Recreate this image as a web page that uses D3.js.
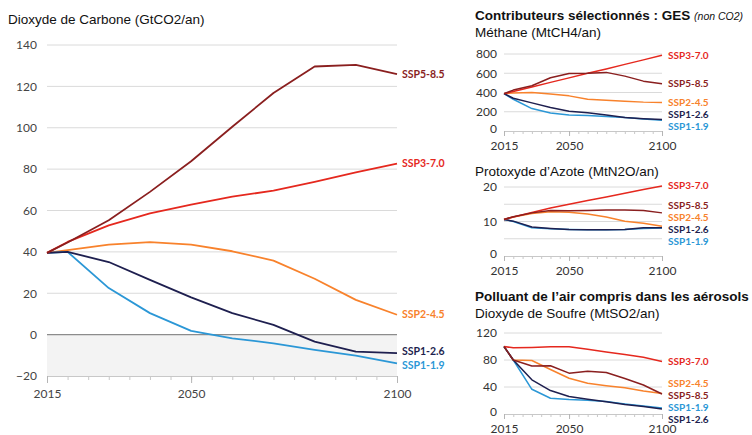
<!DOCTYPE html>
<html>
<head>
<meta charset="utf-8">
<script src="https://cdn.jsdelivr.net/npm/d3@7"></script>
<style>
  body { margin: 0; background: #fff; }
  svg { display: block; }
  .title { font-family: "Liberation Sans", Arial, sans-serif; font-size: 13.5px; fill: #111; }
  .tick text { font-family: Lato, sans-serif; fill: #444; }
  .lbl { font-family: Lato, sans-serif; font-weight: bold; }
</style>
</head>
<body>
<script>
// years of the projections
var years = [2015, 2020, 2030, 2040, 2050, 2060, 2070, 2080, 2090, 2100];
var scenarios = ["SSP1-1.9", "SSP1-2.6", "SSP2-4.5", "SSP3-7.0", "SSP5-8.5"];
var colors = ["#2b97d6", "#1e1f4f", "#f8822c", "#e5281e", "#8a1f1f"];

// one row per scenario, same order as above
var co2 = [
  [39.5, 40, 22.5, 10.4, 1.8, -1.8, -4.2, -7.4, -10.2, -13.9],
  [39.5, 40, 35.1, 26.5, 18, 10.4, 4.7, -3.4, -8.2, -8.9],
  [39.5, 40.8, 43.5, 44.7, 43.5, 40.3, 35.8, 27, 16.8, 9.6],
  [39.5, 44.8, 52.8, 58.6, 62.8, 66.7, 69.6, 73.8, 78.4, 82.7],
  [39.5, 44.5, 55.3, 69, 83.8, 100.5, 116.8, 129.6, 130.4, 125.9]
];
var ch4 = [
  [388, 330, 233, 188, 167, 160, 150, 140, 125, 112],
  [388, 340, 292, 244, 205, 190, 167, 140, 128, 119],
  [388, 395, 400, 385, 365, 330, 320, 310, 300, 296],
  [388, 411, 458, 505, 552, 599, 645, 692, 739, 786],
  [388, 425, 470, 553, 598, 600, 609, 570, 518, 490]
];
var n2o = [
  [10.6, 10.0, 8.2, 7.9, 7.7, 7.6, 7.6, 7.7, 8.0, 8.1],
  [10.6, 10.1, 8.4, 8.0, 7.7, 7.6, 7.6, 7.7, 8.2, 8.2],
  [10.6, 11.3, 12.3, 12.8, 12.7, 12.2, 11.3, 10.1, 9.5, 8.6],
  [10.6, 11.3, 12.6, 13.9, 15.0, 16.1, 17.1, 18.2, 19.3, 20.3],
  [10.6, 11.4, 12.5, 13.2, 13.1, 13.2, 13.3, 13.3, 13.2, 12.5]
];
var so2 = [
  [100, 80, 36.6, 23.3, 21.3, 20.5, 18.5, 15, 12, 8.9],
  [100, 80, 50.6, 34.7, 25.8, 22, 18, 14, 11, 7.4],
  [100, 80, 79.3, 66, 53, 45.6, 42, 39, 34, 30.2],
  [100, 98, 98.5, 99.5, 99.5, 96, 92, 88, 84, 77.8],
  [100, 80, 71, 71.5, 60.5, 63.4, 61.5, 52.5, 43, 29.7]
];

var co2Ticks = [-20, 0, 20, 40, 60, 80, 100, 120, 140];
var ch4Ticks = [0, 200, 400, 600, 800];
var n2oTicks = [0, 10, 20];
var n2oGrid = [5, 10, 15, 20];
var so2Ticks = [0, 40, 80, 120];
var yearTicks = [2015, 2050, 2100];

var svg = d3.select("body").append("svg")
  .attr("width", 752).attr("height", 435);

// spread end labels so they don't overlap
function spread(lbls, gap) {
  lbls.sort(function(a, b){ return a.y0 - b.y0; });
  var groups = lbls.map(function(l){ return [l]; });
  var top = function(g){ return d3.mean(g, function(l, i){ return l.y0 - i * gap; }); };
  var merged = true;
  while (merged) {
    merged = false;
    for (var i = 0; i < groups.length - 1; i++) {
      if (top(groups[i]) + groups[i].length * gap > top(groups[i + 1])) {
        groups[i] = groups[i].concat(groups[i + 1]);
        groups.splice(i + 1, 1);
        merged = true;
        break;
      }
    }
  }
  groups.forEach(function(g){
    var t = top(g);
    g.forEach(function(l, i){ l.y = t + i * gap; });
  });
  return lbls;
}

function panel(o) {
  var g = svg.append("g");
  var x = d3.scaleLinear().domain([2015, 2100]).range([o.x0, o.x1]);
  var y = d3.scaleLinear().domain(o.domain).range([o.y0, o.y1]);

  if (o.shade) {
    g.append("rect")
      .attr("x", x(2015)).attr("width", x(2100) - x(2015))
      .attr("y", y(0)).attr("height", y(o.domain[0]) - y(0))
      .attr("fill", "#f3f3f3");
  }

  // gridlines
  g.selectAll(".grid").data(o.grid.filter(function(v){ return v !== o.domain[0]; }))
    .enter().append("line")
    .attr("x1", x(2015)).attr("x2", x(2100))
    .attr("y1", function(d){ return y(d); }).attr("y2", function(d){ return y(d); })
    .attr("stroke", function(d){ return d === 0 && o.shade ? "#8c8c8c" : "#dadada"; })
    .attr("stroke-width", function(d){ return d === 0 && o.shade ? 1.2 : 1; });

  // y labels
  var ya = g.append("g").attr("transform", "translate(" + o.x0 + ",0)")
    .call(d3.axisLeft(y).tickValues(o.ticks).tickSize(0).tickPadding(o.ypad));
  ya.select(".domain").remove();
  ya.selectAll("text").style("font-size", o.fs + "px").style("fill", o.tc);
  // lowest label sits a bit higher so it clears the year labels
  ya.selectAll(".tick text").filter(function(d){ return d === o.domain[0]; })
    .attr("dy", o.lowDy);

  // x axis: minor then major ticks
  var minor = g.append("g").attr("transform", "translate(0," + y(o.domain[0]) + ")")
    .call(d3.axisBottom(x).tickValues(d3.range(2015, 2101, 5)).tickSize(o.minor).tickFormat(""));
  minor.select(".domain").attr("stroke", "#c8c8c8");
  minor.selectAll(".tick line").attr("stroke", "#c8c8c8");
  var xa = g.append("g").attr("transform", "translate(0," + y(o.domain[0]) + ")")
    .call(d3.axisBottom(x).tickValues(yearTicks).tickFormat(d3.format("d")).tickSize(o.major).tickPadding(o.xpad));
  xa.select(".domain").remove();
  xa.selectAll(".tick line").attr("stroke", "#b5b5b5");
  xa.selectAll("text").style("font-size", o.fs + "px").style("fill", o.tc);

  var line = d3.line().x(function(d, i){ return x(years[i]); }).y(function(d){ return y(d); });

  // draw order: background series first
  var order = [2, 0, 1, 3, 4];
  g.selectAll(".series").data(order).enter().append("path")
    .attr("d", function(k){ return line(o.data[k]); })
    .attr("fill", "none")
    .attr("stroke", function(k){ return colors[k]; })
    .attr("stroke-width", o.lw)
    .attr("stroke-linejoin", "round");

  var lbls = spread(scenarios.map(function(s, k){
    return { name: s, k: k, y0: y(o.data[k][years.length - 1]) };
  }), o.gap);
  g.selectAll(".lbl").data(lbls).enter().append("text")
    .attr("class", "lbl")
    .attr("x", x(2100) + o.lx)
    .attr("y", function(d){ return d.y; })
    .attr("dy", "0.35em")
    .style("font-size", o.lfs + "px")
    .attr("fill", function(d){ return colors[d.k]; })
    .text(function(d){ return d.name; });
}

// titles
svg.append("text").attr("class", "title").attr("x", 8).attr("y", 24).text("Dioxyde de Carbone (GtCO2/an)");
var t1 = svg.append("text").attr("class", "title").attr("x", 475).attr("y", 20);
t1.append("tspan").style("font-weight", "bold").text("Contributeurs sélectionnés : GES ");
t1.append("tspan").style("font-style", "italic").style("font-size", "10.5px").text("(non CO2)");
svg.append("text").attr("class", "title").attr("x", 475).attr("y", 37).text("Méthane (MtCH4/an)");
svg.append("text").attr("class", "title").attr("x", 475).attr("y", 176).text("Protoxyde d’Azote (MtN2O/an)");
svg.append("text").attr("class", "title").attr("x", 475).attr("y", 301).style("font-weight", "bold").text("Polluant de l’air compris dans les aérosols");
svg.append("text").attr("class", "title").attr("x", 475).attr("y", 318).text("Dioxyde de Soufre (MtSO2/an)");

panel({ data: co2, x0: 47, x1: 397, y0: 376, y1: 45, domain: [-20, 140],
  ticks: co2Ticks, grid: co2Ticks, shade: true, fs: 12, tc: "#444", ypad: 10, xpad: 6,
  minor: 4, major: 7, lw: 1.8, gap: 14, lx: 5, lfs: 10.5, lowDy: "0.32em" });

panel({ data: ch4, x0: 504, x1: 662, y0: 131, y1: 54, domain: [0, 800],
  ticks: ch4Ticks, grid: ch4Ticks, fs: 12, tc: "#333", ypad: 7, xpad: 5,
  minor: 3, major: 5, lw: 1.5, gap: 12, lx: 6, lfs: 10, lowDy: "0.1em" });

panel({ data: n2o, x0: 504, x1: 662, y0: 256, y1: 187, domain: [0, 20],
  ticks: n2oTicks, grid: n2oGrid, fs: 12, tc: "#333", ypad: 7, xpad: 5,
  minor: 3, major: 5, lw: 1.5, gap: 12, lx: 6, lfs: 10, lowDy: "0.1em" });

panel({ data: so2, x0: 504, x1: 662, y0: 414, y1: 333, domain: [0, 120],
  ticks: so2Ticks, grid: so2Ticks, fs: 12, tc: "#333", ypad: 7, xpad: 5,
  minor: 3, major: 5, lw: 1.5, gap: 12, lx: 6, lfs: 10, lowDy: "0.1em" });
</script>
</body>
</html>
